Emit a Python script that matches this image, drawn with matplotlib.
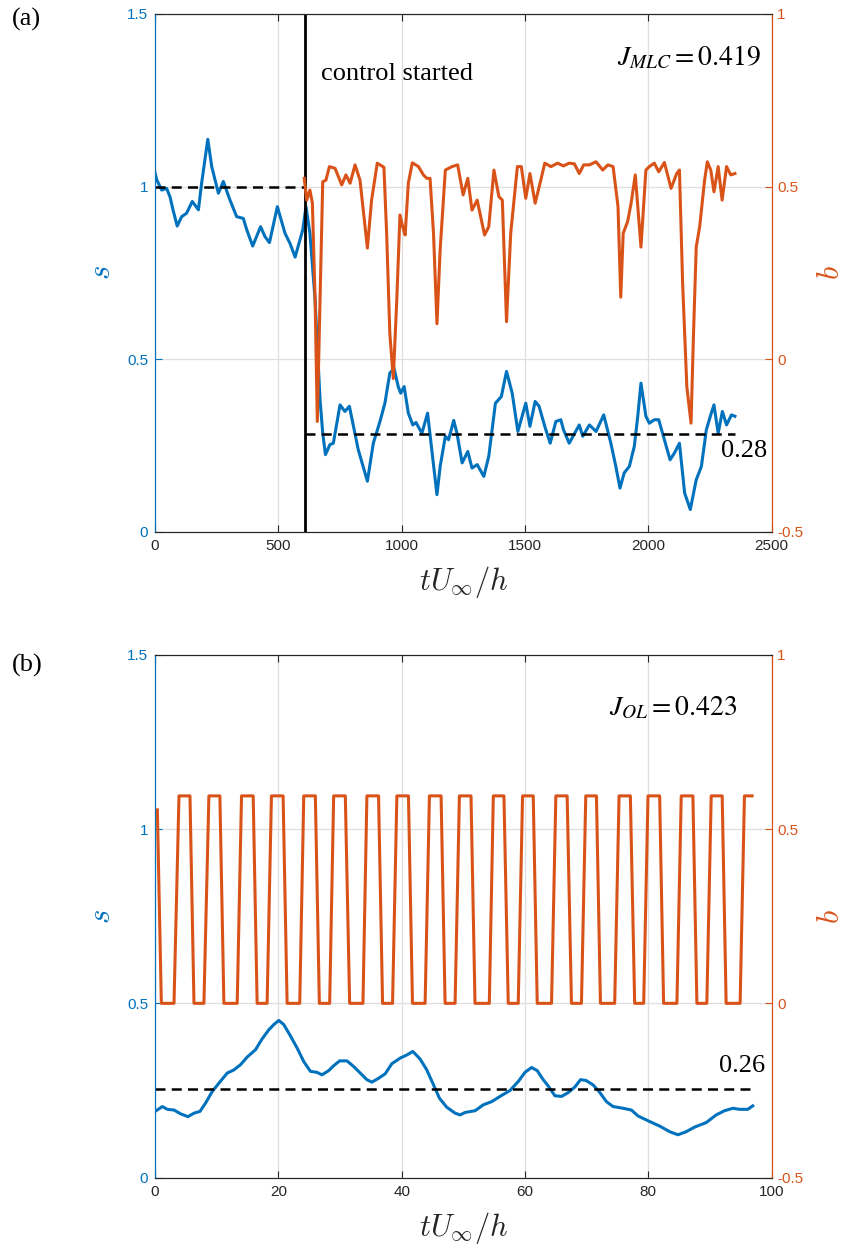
import numpy as np
import matplotlib
matplotlib.use('Agg')
import matplotlib.pyplot as plt

plt.rcParams['axes.unicode_minus'] = False
plt.rcParams['font.family'] = ['Liberation Sans', 'DejaVu Sans']

BLUE = '#0072BD'
ORANGE = '#D95319'

# ---- panel (a): MLC control ----
t_s_a = [0, 7, 27, 47, 61, 74, 90, 108, 128, 151, 176, 189, 214, 230, 257, 277, 304, 331,
         358, 372, 396, 428, 446, 464, 496, 527, 547, 568, 599, 612, 628, 649, 669, 680,
         691, 709, 723, 750, 770, 788, 824, 861, 885, 912, 932, 952, 969, 986, 996, 1010,
         1027, 1045, 1058, 1082, 1105, 1122, 1143, 1156, 1177, 1190, 1211, 1224, 1245,
         1268, 1285, 1306, 1333, 1353, 1380, 1404, 1425, 1448, 1471, 1503, 1520, 1541,
         1557, 1580, 1602, 1625, 1645, 1656, 1679, 1720, 1734, 1761, 1788, 1819, 1848,
         1868, 1885, 1902, 1923, 1943, 1957, 1970, 1990, 2004, 2024, 2042, 2065, 2088,
         2106, 2126, 2147, 2170, 2194, 2215, 2235, 2255, 2266, 2283, 2300, 2317, 2337, 2351]
s_a = [1.04, 1.02, 0.99, 0.995, 0.97, 0.93, 0.886, 0.913, 0.923, 0.957, 0.933, 1.01, 1.137,
       1.058, 0.981, 1.015, 0.961, 0.913, 0.908, 0.875, 0.828, 0.884, 0.855, 0.838, 0.942,
       0.865, 0.836, 0.796, 0.875, 0.942, 0.865, 0.672, 0.383, 0.286, 0.224, 0.253, 0.257,
       0.368, 0.349, 0.364, 0.238, 0.147, 0.257, 0.32, 0.373, 0.46, 0.474, 0.421, 0.402,
       0.421, 0.344, 0.31, 0.317, 0.286, 0.344, 0.238, 0.108, 0.19, 0.277, 0.267, 0.323,
       0.286, 0.2, 0.233, 0.185, 0.195, 0.161, 0.219, 0.373, 0.392, 0.465, 0.402, 0.291,
       0.373, 0.306, 0.378, 0.364, 0.306, 0.257, 0.32, 0.325, 0.296, 0.257, 0.31, 0.277,
       0.31, 0.291, 0.339, 0.257, 0.19, 0.127, 0.171, 0.19, 0.248, 0.335, 0.431, 0.335,
       0.315, 0.325, 0.325, 0.267, 0.209, 0.229, 0.257, 0.113, 0.065, 0.151, 0.19, 0.296,
       0.344, 0.368, 0.286, 0.349, 0.31, 0.339, 0.335]

t_b_a = [605, 615, 628, 638, 649, 658, 669, 680, 693, 707, 730, 757, 774, 791, 811, 831,
         861, 878, 901, 928, 939, 952, 966, 980, 993, 1004, 1014, 1027, 1043, 1068, 1088,
         1102, 1115, 1129, 1143, 1156, 1177, 1204, 1227, 1249, 1268, 1285, 1306, 1336,
         1353, 1374, 1394, 1408, 1425, 1442, 1469, 1485, 1503, 1520, 1541, 1564, 1580,
         1605, 1632, 1656, 1679, 1700, 1720, 1738, 1761, 1788, 1815, 1836, 1857, 1877,
         1888, 1898, 1916, 1930, 1947, 1970, 1990, 2004, 2024, 2042, 2065, 2092, 2115,
         2126, 2139, 2156, 2173, 2183, 2194, 2208, 2228, 2239, 2253, 2266, 2283, 2299,
         2317, 2334, 2351]
b_a = [0.524, 0.461, 0.49, 0.452, 0.172, -0.18, 0.172, 0.514, 0.519, 0.558, 0.553, 0.505,
       0.534, 0.51, 0.563, 0.519, 0.322, 0.461, 0.568, 0.556, 0.365, 0.074, -0.056, 0.17,
       0.418, 0.384, 0.36, 0.51, 0.569, 0.558, 0.534, 0.524, 0.524, 0.365, 0.103, 0.318,
       0.548, 0.558, 0.563, 0.476, 0.524, 0.432, 0.461, 0.36, 0.384, 0.548, 0.471, 0.461,
       0.109, 0.365, 0.558, 0.558, 0.466, 0.538, 0.452, 0.519, 0.568, 0.558, 0.568, 0.56,
       0.568, 0.566, 0.538, 0.563, 0.563, 0.572, 0.548, 0.563, 0.558, 0.442, 0.18, 0.365,
       0.399, 0.452, 0.534, 0.325, 0.548, 0.558, 0.568, 0.543, 0.57, 0.495, 0.538, 0.548,
       0.218, -0.08, -0.185, 0.074, 0.325, 0.384, 0.519, 0.572, 0.548, 0.485, 0.558,
       0.461, 0.558, 0.534, 0.538]

t_start = 608        # control switched on
s_mean_before = 1.0
s_mean_after = 0.285

# ---- panel (b): open loop forcing ----
t_s_b = [0.27, 1.19, 2.0, 3.08, 4.16, 5.35, 6.32, 7.29, 8.2, 9.28, 10.36, 11.71, 12.79,
         13.87, 14.95, 16.3, 17.37, 18.45, 19.26, 20.07, 20.88, 21.85, 23.04, 24.12, 25.2,
         26.27, 27.08, 28.16, 28.97, 29.94, 31.13, 32.2, 33.28, 34.36, 35.17, 36.25, 37.33,
         38.41, 39.76, 40.84, 41.81, 43.0, 44.07, 45.04, 46.12, 47.31, 48.66, 49.47, 50.28,
         51.9, 53.24, 54.59, 55.94, 57.56, 58.91, 59.99, 61.06, 61.98, 62.95, 63.76, 64.84,
         65.92, 67.0, 68.08, 68.99, 69.86, 71.04, 72.01, 73.2, 74.28, 75.9, 77.25, 78.32,
         80.21, 81.83, 83.45, 84.8, 86.15, 87.49, 89.38, 91.0, 92.35, 93.7, 94.77, 96.12, 96.93]
s_b = [0.193, 0.204, 0.196, 0.194, 0.183, 0.175, 0.185, 0.19, 0.214, 0.247, 0.271, 0.3,
       0.309, 0.324, 0.346, 0.367, 0.398, 0.424, 0.439, 0.451, 0.439, 0.41, 0.372, 0.333,
       0.305, 0.302, 0.295, 0.307, 0.321, 0.335, 0.335, 0.319, 0.3, 0.281, 0.274, 0.285,
       0.298, 0.327, 0.343, 0.352, 0.362, 0.34, 0.309, 0.271, 0.228, 0.202, 0.185, 0.18,
       0.187, 0.192, 0.209, 0.218, 0.233, 0.25, 0.276, 0.302, 0.316, 0.307, 0.281, 0.263,
       0.235, 0.233, 0.244, 0.26, 0.281, 0.279, 0.266, 0.247, 0.218, 0.204, 0.199, 0.194,
       0.177, 0.161, 0.148, 0.132, 0.123, 0.132, 0.145, 0.158, 0.18, 0.192, 0.199, 0.196,
       0.196, 0.206]

# corners of the pulse train b(t)
b_first = [(0.38, 0.555), (1.03, 0.0)]
rise_start = [3.08, 7.93, 13.33, 18.18, 23.47, 28.32, 33.72, 38.52, 43.8, 48.66, 54.21,
              58.9, 64.3, 69.15, 74.54, 79.24, 84.63, 89.48, 94.88]
top_start = [3.89, 8.74, 14.03, 18.88, 24.12, 28.97, 34.36, 39.22, 44.5, 49.36, 54.86,
             59.6, 65.0, 69.85, 75.25, 79.94, 85.33, 90.19, 95.58]
top_end = [5.67, 10.52, 15.92, 20.77, 26.0, 30.86, 36.25, 41.1, 46.39, 51.24, 56.58,
           61.33, 66.83, 71.58, 77.08, 81.83, 87.22, 91.97, 96.82]
fall_end = [6.32, 11.17, 16.56, 21.42, 26.65, 31.56, 36.9, 41.75, 47.04, 51.89, 57.28,
            61.98, 67.53, 72.23, 77.78, 82.47, 87.87, 92.61]
b_high = 0.595
b_low = 0.0
s_mean_ol = 0.255

tb_b = [p[0] for p in b_first]
bb_b = [p[1] for p in b_first]
for i in range(len(rise_start)):
    tb_b += [rise_start[i], top_start[i], top_end[i]]
    bb_b += [b_low, b_high, b_high]
    if i < len(fall_end):
        tb_b.append(fall_end[i])
        bb_b.append(b_low)


def setup_axes(rect, xmax, xticks):
    ax = fig.add_axes(rect)
    ax2 = ax.twinx()
    ax.set_xlim(0, xmax)
    ax.set_ylim(0, 1.5)
    ax2.set_ylim(-0.5, 1)
    ax.set_xticks(xticks)
    ax.set_xticklabels([str(v) for v in xticks])
    ax.set_yticks([0, 0.5, 1, 1.5])
    ax.set_yticklabels(['0', '0.5', '1', '1.5'])
    ax2.set_yticks([-0.5, 0, 0.5, 1])
    ax2.set_yticklabels(['-0.5', '0', '0.5', '1'])
    ax.grid(True, color='#dfdfdf', lw=0.9)
    ax.set_axisbelow(True)
    ax.tick_params(axis='x', direction='in', top=True, length=5, width=0.8,
                   colors='#262626', labelsize=11, pad=5)
    ax.tick_params(axis='y', direction='in', length=5, width=0.8, colors=BLUE,
                   labelsize=11, pad=5)
    ax2.tick_params(axis='y', direction='in', length=5, width=0.8, colors=ORANGE,
                    labelsize=11, pad=4)
    for a in (ax, ax2):
        a.spines['left'].set_color(BLUE)
        a.spines['right'].set_color(ORANGE)
        a.spines['top'].set_color('#262626')
        a.spines['bottom'].set_color('#262626')
    ax.set_xlabel(r'$tU_\infty/h$', fontsize=22, math_fontfamily='cm', color='#262626')
    ax.xaxis.set_label_coords(0.5, -0.062)
    ax.set_ylabel(r'$s$', fontsize=22, math_fontfamily='cm', color=BLUE, rotation=90)
    ax.yaxis.set_label_coords(-0.062, 0.5)
    ax2.set_ylabel(r'$b$', fontsize=22, math_fontfamily='cm', color=ORANGE, rotation=90)
    ax2.yaxis.set_label_coords(1.072, 0.5)
    return ax, ax2


fig = plt.figure(figsize=(8.47, 12.47), dpi=100)
serif = ['Liberation Serif', 'DejaVu Serif']

# (a)
ax, ax2 = setup_axes([0.1830, 0.5734, 0.7281, 0.4154], 2500, [0, 500, 1000, 1500, 2000, 2500])
ax.plot(t_s_a, s_a, color=BLUE, lw=2.2)
ax.plot([0, t_start], [s_mean_before, s_mean_before], 'k--', lw=1.8, dashes=(4, 2.5))
ax.plot([t_start, t_s_a[-1]], [s_mean_after, s_mean_after], 'k--', lw=1.8, dashes=(4, 2.5))
ax.axvline(t_start, color='k', lw=2)
ax2.plot(t_b_a, b_a, color=ORANGE, lw=2.2)
ax.text(673, 1.325, 'control started', fontsize=19, family=serif, va='center')
ax.text(2455, 1.375, r'$J_{MLC} = 0.419$', fontsize=20, math_fontfamily='stix',
        ha='right', va='center')
ax.text(2295, 0.235, '0.28', fontsize=19, family=serif, va='center')
fig.text(0.014, 0.984, '(a)', fontsize=19, family=serif, va='center')

# (b)
bx, bx2 = setup_axes([0.1830, 0.0556, 0.7281, 0.4194], 100, [0, 20, 40, 60, 80, 100])
bx.plot(t_s_b, s_b, color=BLUE, lw=2.2)
bx.plot([0, t_s_b[-1]], [s_mean_ol, s_mean_ol], 'k--', lw=1.8, dashes=(4, 2.5))
bx2.plot(tb_b, bb_b, color=ORANGE, lw=2.2)
bx.text(94.4, 1.348, r'$J_{OL} = 0.423$', fontsize=20, math_fontfamily='stix',
        ha='right', va='center')
bx.text(91.4, 0.321, '0.26', fontsize=19, family=serif, va='center')
fig.text(0.014, 0.4667, '(b)', fontsize=19, family=serif, va='center')

fig.savefig('out.png', dpi=100)
